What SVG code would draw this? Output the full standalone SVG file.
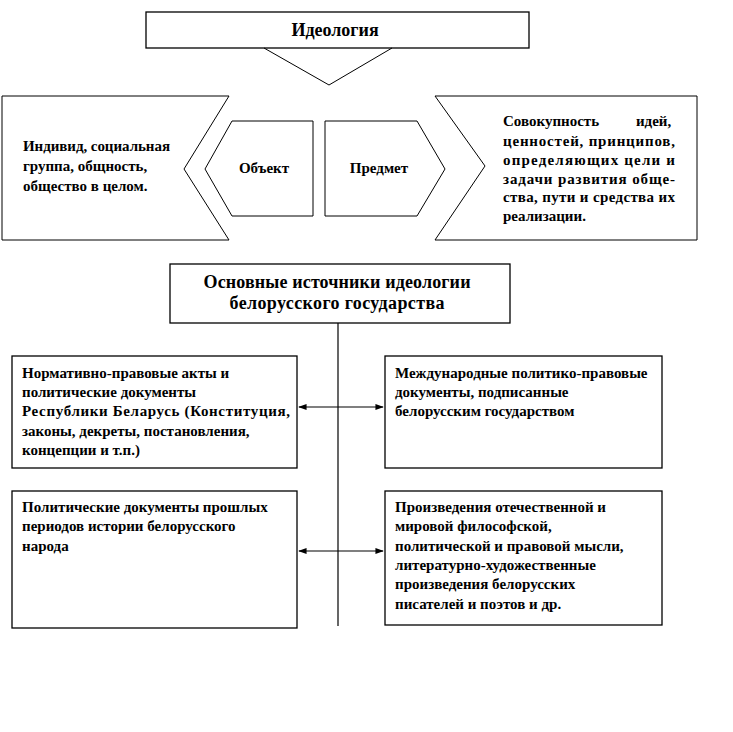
<svg xmlns="http://www.w3.org/2000/svg" width="733" height="732" viewBox="0 0 733 732">
<defs>
<style>
.b{fill:#fff;stroke:#000;stroke-width:1.3}
.t{stroke:#000;stroke-width:1;fill:none}
.s{font-family:"Liberation Serif","Times New Roman",serif;font-weight:bold;font-size:15px;fill:#000}
.l{font-family:"Liberation Serif","Times New Roman",serif;font-weight:bold;font-size:18px;fill:#000}
.c{stroke:#000;stroke-width:1.2;fill:none}
</style>
<marker id="ah" viewBox="0 0 10 10" refX="9" refY="5" markerWidth="7" markerHeight="7" orient="auto-start-reverse">
<path d="M0,1.5 L10,5 L0,8.5 Z" fill="#000"/>
</marker>
</defs>
<rect width="733" height="732" fill="#fff"/>

<g id="ideology">
<rect class="b" x="146" y="12" width="383" height="36"/>
<text class="l" x="335" y="36" text-anchor="middle">Идеология</text>
</g>
<g id="pointer">
<polyline class="t" points="264,48 329,85 392,48"/>
</g>

<g id="object-desc">
<polygon class="t" points="2,96 229,96 184,169 229,240 2,240"/>
<text class="s"><tspan x="23" y="151" textLength="147" lengthAdjust="spacing">Индивид, социальная</tspan><tspan x="23" y="171">группа, общность,</tspan><tspan x="23" y="191">общество в целом.</tspan></text>
</g>

<g id="object">
<polygon class="t" points="205,169 232,121 313,121 313,216 232,216"/>
<text class="s" x="264" y="173" text-anchor="middle">Объект</text>
</g>

<g id="subject">
<polygon class="t" points="325,121 417,121 445,169 417,216 325,216"/>
<text class="s" x="379" y="173" text-anchor="middle">Предмет</text>
</g>

<g id="subject-desc">
<polygon class="t" points="435,96 697,96 697,240 435,240 485,166"/>
<text class="s">
<tspan x="503" y="126">Совокупность</tspan><tspan x="675" y="126" text-anchor="end">идей,</tspan>
<tspan x="503" y="146" textLength="172" lengthAdjust="spacing">ценностей, принципов,</tspan>
<tspan x="503" y="165" textLength="172" lengthAdjust="spacing">определяющих цели и</tspan>
<tspan x="503" y="184" textLength="172" lengthAdjust="spacing">задачи развития обще-</tspan>
<tspan x="503" y="202" textLength="172" lengthAdjust="spacing">ства, пути и средства их</tspan>
<tspan x="503" y="221">реализации.</tspan>
</text>
</g>

<g id="sources">
<rect class="b" x="170" y="264" width="340" height="59"/>
<text class="l" text-anchor="middle"><tspan x="337" y="288" textLength="267" lengthAdjust="spacing">Основные источники идеологии</tspan><tspan x="337" y="309" textLength="215" lengthAdjust="spacing">белорусского государства</tspan></text>
</g>

<g id="normative">
<rect class="b" x="12" y="356" width="285" height="112"/>
<text class="s"><tspan x="22" y="378">Нормативно-правовые акты и</tspan><tspan x="22" y="397">политические документы</tspan><tspan x="22" y="416" textLength="268" lengthAdjust="spacing">Республики Беларусь  (Конституция,</tspan><tspan x="22" y="436">законы, декреты, постановления,</tspan><tspan x="22" y="455">концепции и т.п.)</tspan></text>
</g>

<g id="international">
<rect class="b" x="385" y="356" width="277" height="112"/>
<text class="s"><tspan x="395" y="378">Международные политико-правовые</tspan><tspan x="395" y="397">документы, подписанные</tspan><tspan x="395" y="416">белорусским  государством</tspan></text>
</g>

<g id="historical">
<rect class="b" x="12" y="491" width="285" height="137"/>
<text class="s"><tspan x="22" y="512">Политические документы  прошлых</tspan><tspan x="22" y="531">периодов истории белорусского</tspan><tspan x="22" y="551">народа</tspan></text>
</g>

<g id="works">
<rect class="b" x="385" y="491" width="277" height="134"/>
<text class="s"><tspan x="395" y="512">Произведения отечественной и</tspan><tspan x="395" y="531">мировой философской,</tspan><tspan x="395" y="551">политической и правовой мысли,</tspan><tspan x="395" y="570">литературно-художественные</tspan><tspan x="395" y="589">произведения белорусских</tspan><tspan x="395" y="609">писателей и поэтов и др.</tspan></text>
</g>

<g id="connectors">
<line class="c" x1="338" y1="323" x2="338" y2="626"/>
<line class="c" x1="299" y1="407" x2="383" y2="407" marker-start="url(#ah)" marker-end="url(#ah)"/>
<line class="c" x1="299" y1="551" x2="383" y2="551" marker-start="url(#ah)" marker-end="url(#ah)"/>
</g>
</svg>
